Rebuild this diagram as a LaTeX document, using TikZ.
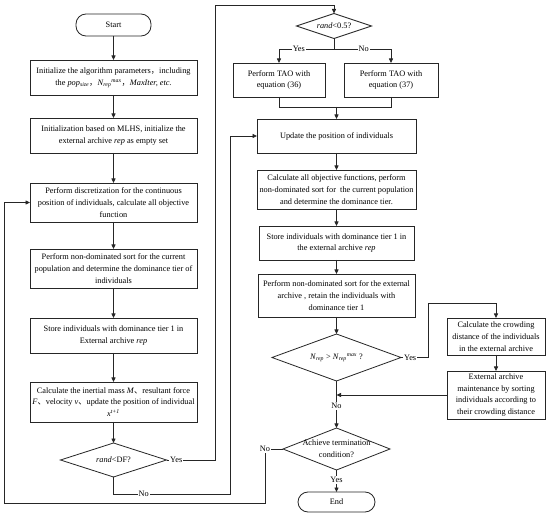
\documentclass[tikz,border=0pt]{standalone}
\usepackage{fontspec}
\setmainfont{Liberation Serif}
\newfontfamily\cjk{Noto Sans CJK SC}
\usetikzlibrary{shapes.geometric,arrows.meta}
\newcommand{\fc}{{\cjk ，}}
\newcommand{\dc}{{\cjk 、}}
\begin{document}
\begin{tikzpicture}[x=1pt,y=-1pt,
  every node/.style={font=\fontsize{8.3}{11.8}\selectfont},
  line/.style={draw=black!85,line width=0.8pt},
  arr/.style={line,-{Triangle[length=4.5pt,width=4pt]}},
  box/.style={line,rectangle,align=center,inner sep=1pt,outer sep=0pt},
  pill/.style={line,rectangle,rounded corners=10pt,inner sep=1pt,outer sep=0pt},
  dec/.style={line,diamond,inner sep=0pt,outer sep=0pt},
  lbl/.style={fill=white,inner sep=1pt}]
\useasboundingbox (0,0) rectangle (550,516);
\fill[white] (0,0) rectangle (550,516);

% left column
\node[pill,minimum width=75pt,minimum height=22pt] (start) at (113.5,25) {Start};
\node[box,minimum width=167pt,minimum height=35pt] (b1) at (113.5,77.5)
 {Initialize the algorithm parameters\fc including\\
  the \textit{pop}\textsubscript{\textit{size}}\fc \textit{N}\textsubscript{\textit{rep}}\textsuperscript{\textit{max}}\fc \textit{MaxIter, etc.}};
\node[box,minimum width=167pt,minimum height=35pt] (b2) at (113.5,135.5)
 {Initialization based on MLHS, initialize the\\external archive \textit{rep} as empty set};
\node[box,minimum width=167pt,minimum height=39pt] (b3) at (113.5,202.5)
 {Perform discretization for the continuous\\position of individuals, calculate all objective\\function};
\node[box,minimum width=167pt,minimum height=39pt] (b4) at (113.5,268.5)
 {Perform non-dominated sort for the current\\population and determine the dominance tier of\\individuals};
\node[box,minimum width=167pt,minimum height=35pt] (b5) at (113.5,335.5)
 {Store individuals with dominance tier 1 in\\External archive \textit{rep}};
\node[box,minimum width=167pt,minimum height=40pt] (b6) at (113.5,402)
 {Calculate the inertial mass \textit{M}\dc resultant force\\
  \textit{F}\dc velocity \textit{v}\dc update the position of individual\\
  \textit{x}\textsuperscript{\textit{t+1}}};
\node[dec,minimum width=106pt,minimum height=34pt,
  label={center:\textit{rand}<DF?}] (d1) at (113.5,460) {};

% right column
\node[dec,minimum width=75pt,minimum height=25pt,
  label={center:\textit{rand}<0.5?}] (d2) at (334,26) {};
\node[box,minimum width=92pt,minimum height=34pt] (t36) at (279,80)
 {Perform TAO with\\equation (36)};
\node[box,minimum width=94pt,minimum height=34pt] (t37) at (391,80)
 {Perform TAO with\\equation (37)};
\node[box,minimum width=159pt,minimum height=34pt] (upd) at (336.5,136)
 {Update the position of individuals};
\node[box,minimum width=159pt,minimum height=39pt] (calc) at (336.5,189.5)
 {Calculate all objective functions, perform\\non-dominated sort for\ \ the current population\\and determine the dominance tier.};
\node[box,minimum width=155pt,minimum height=34pt] (store) at (336.5,243)
 {Store individuals with dominance tier 1 in\\the external archive \textit{rep}};
\node[box,minimum width=157pt,minimum height=43pt] (nd) at (336.5,295.5)
 {Perform non-dominated sort for the external\\archive , retain the individuals with\\dominance tier 1};
\node[dec,minimum width=129pt,minimum height=47pt,
  label={center:\textit{N}\textsubscript{\textit{rep}} > \textit{N}\textsubscript{\textit{rep}}\textsuperscript{\textit{max}} ?}] (d3) at (336.5,357.5) {};
\node[box,minimum width=98pt,minimum height=37pt] (crowd) at (496,336.5)
 {Calculate the crowding\\distance of the individuals\\in the external archive};
\node[box,minimum width=98pt,minimum height=48pt] (maint) at (496,395)
 {External archive\\maintenance by sorting\\individuals according to\\their crowding distance};
\node[dec,minimum width=107pt,minimum height=42pt,
  label={[align=center]center:Achieve termination\\condition?}] (d4) at (336.5,449) {};
\node[pill,minimum width=77pt,minimum height=20pt] (end) at (336.5,502) {End};

% bend points
\coordinate (yesc) at (215,5);
\coordinate (noc) at (230,494);
\coordinate (split) at (334,49);
\coordinate (merge) at (336.5,107);
\coordinate (yb) at (428,303);
\coordinate (lb) at (265,503);
\coordinate (ll) at (4,503);

% connectors
\draw[arr] (start) -- (b1);
\draw[arr] (b1) -- (b2);
\draw[arr] (b2) -- (b3);
\draw[arr] (b3) -- (b4);
\draw[arr] (b4) -- (b5);
\draw[arr] (b5) -- (b6);
\draw[arr] (b6) -- (d1);
\draw[arr] (d1.east) -| node[lbl,pos=0.1]{Yes} (yesc) -| (d2.north);
\draw[arr] (d1.south) |- node[lbl,pos=0.63]{No} (noc) |- (upd.west);
\draw[line] (d2.south) -- (split);
\draw[arr] (split) -| node[lbl,pos=0.32]{Yes} (t36.north);
\draw[arr] (split) -| node[lbl,pos=0.26]{No} (t37.north);
\draw[line] (t36.south) |- (merge);
\draw[line] (t37.south) |- (merge);
\draw[arr] (merge) -- (upd.north);
\draw[arr] (upd) -- (calc);
\draw[arr] (calc) -- (store);
\draw[arr] (store) -- (nd);
\draw[arr] (nd) -- (d3);
\draw[arr] (d3.east) -| node[lbl,pos=0.17]{Yes} (yb) -| (crowd.north);
\draw[arr] (crowd) -- (maint);
\draw[arr] (maint.west) -- (maint.west -| d3.south);
\draw[arr] (d3.south) -- node[lbl,pos=0.53]{No} (d4.north);
\draw[arr] (d4.south) -- node[lbl,pos=0.45]{Yes} (end.north);
\draw[arr] (d4.west) -| node[lbl,pos=0.5]{No} (lb) -- (ll) |- (b3.west);
\end{tikzpicture}
\end{document}
